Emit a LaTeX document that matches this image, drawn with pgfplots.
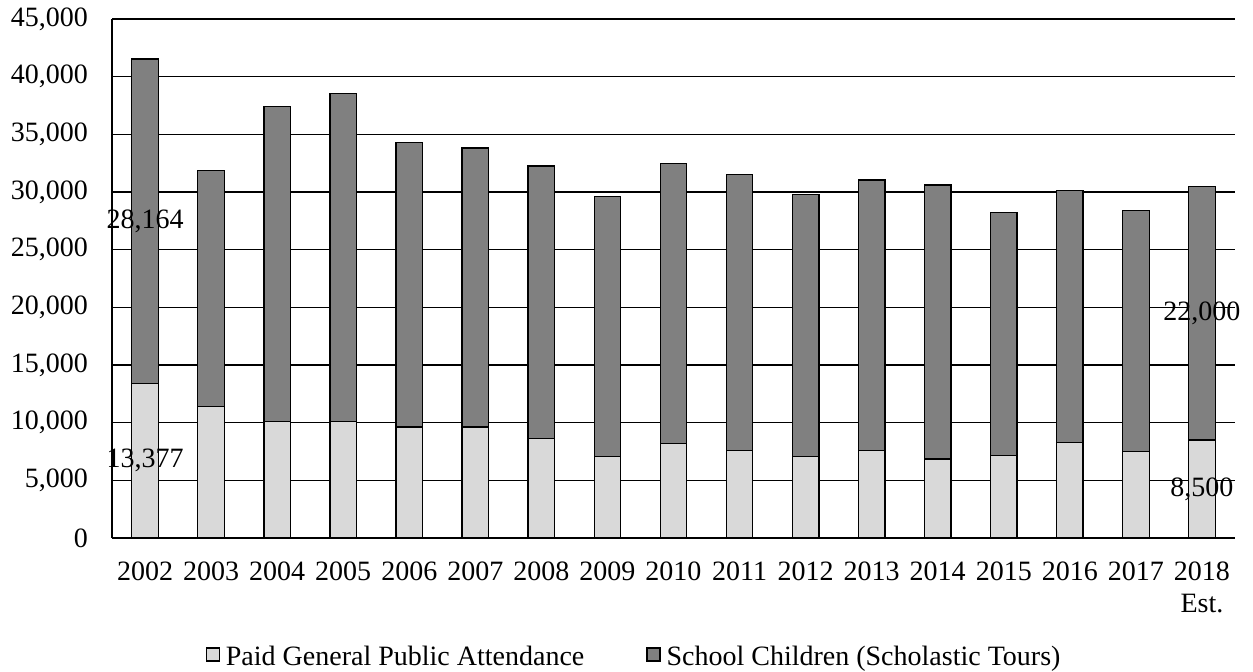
\documentclass[border=0pt]{standalone}
\usepackage{pgfplots}
\pgfplotsset{compat=1.18}
\usepackage{pgfplotstable}
\usepackage{fontspec}
\setmainfont{Liberation Serif}
\definecolor{paidc}{HTML}{D9D9D9}
\definecolor{schoolc}{HTML}{808080}
\newcommand{\chartfont}{\fontsize{28bp}{31.5bp}\selectfont}

\pgfplotstableread{
x paid school plab slab
0 13377 28164 13,377 28,164
1 11400 20455 {} {}
2 10100 27340 {} {}
3 10100 28420 {} {}
4 9620 24680 {} {}
5 9620 24190 {} {}
6 8620 23640 {} {}
7 7070 22550 {} {}
8 8190 24285 {} {}
9 7600 23915 {} {}
10 7040 22770 {} {}
11 7600 23450 {} {}
12 6850 23765 {} {}
13 7170 21055 {} {}
14 8310 21840 {} {}
15 7480 20930 {} {}
16 8500 22000 8,500 22,000
}\datatable

\begin{document}
\begin{tikzpicture}[font=\chartfont]
\useasboundingbox (0,0) rectangle (1253bp,672bp);
\begin{axis}[
  at={(112bp,134bp)}, anchor=south west,
  scale only axis, width=1123bp, height=519bp,
  ybar stacked, bar width=26.5bp,
  xmin=-0.5, xmax=16.5, ymin=0, ymax=45000,
  xtick={0,...,16},
  xticklabels={2002,2003,2004,2005,2006,2007,2008,2009,2010,2011,2012,2013,2014,2015,2016,2017,{2018\\Est.}},
  ytick={0,5000,...,45000},
  scaled y ticks=false,
  yticklabel style={/pgf/number format/fixed, /pgf/number format/1000 sep={,}, /pgf/number format/assume math mode=true,
    inner sep=0pt, xshift=-24bp, font=\chartfont},
  xticklabel style={inner sep=0pt, yshift=-24bp, align=center, font=\chartfont},
  major tick length=0pt,
  ymajorgrids, grid style={black, line width=1.3bp},
  axis x line*=bottom, axis y line*=left,
  axis line style={black, line width=1.3bp},
  clip=false,
  point meta=explicit symbolic,
  nodes near coords,
  legend columns=2,
  legend cell align=left,
  legend style={at={(0.4640,-0.2275)}, anchor=center, draw=none, fill=none,
    font=\chartfont, nodes={inner sep=0pt},
    /tikz/every even column/.append style={column sep=62bp},
    /tikz/every odd column/.append style={column sep=6bp}},
  legend image code/.code={\draw[#1, line width=1.2bp] (0bp,-5bp) rectangle (13bp,8bp);},
]
\addplot[fill=paidc, draw=black, line width=1.3bp,
  nodes near coords style={anchor=center, font=\chartfont, text=black}]
  table[x=x, y=paid, meta=plab] {\datatable};
\addplot[fill=schoolc, draw=black, line width=1.3bp,
  nodes near coords style={anchor=center, font=\chartfont, text=black}]
  table[x=x, y=school, meta=slab] {\datatable};
\legend{Paid General Public Attendance, School Children (Scholastic Tours)}
\end{axis}
\end{tikzpicture}
\end{document}
